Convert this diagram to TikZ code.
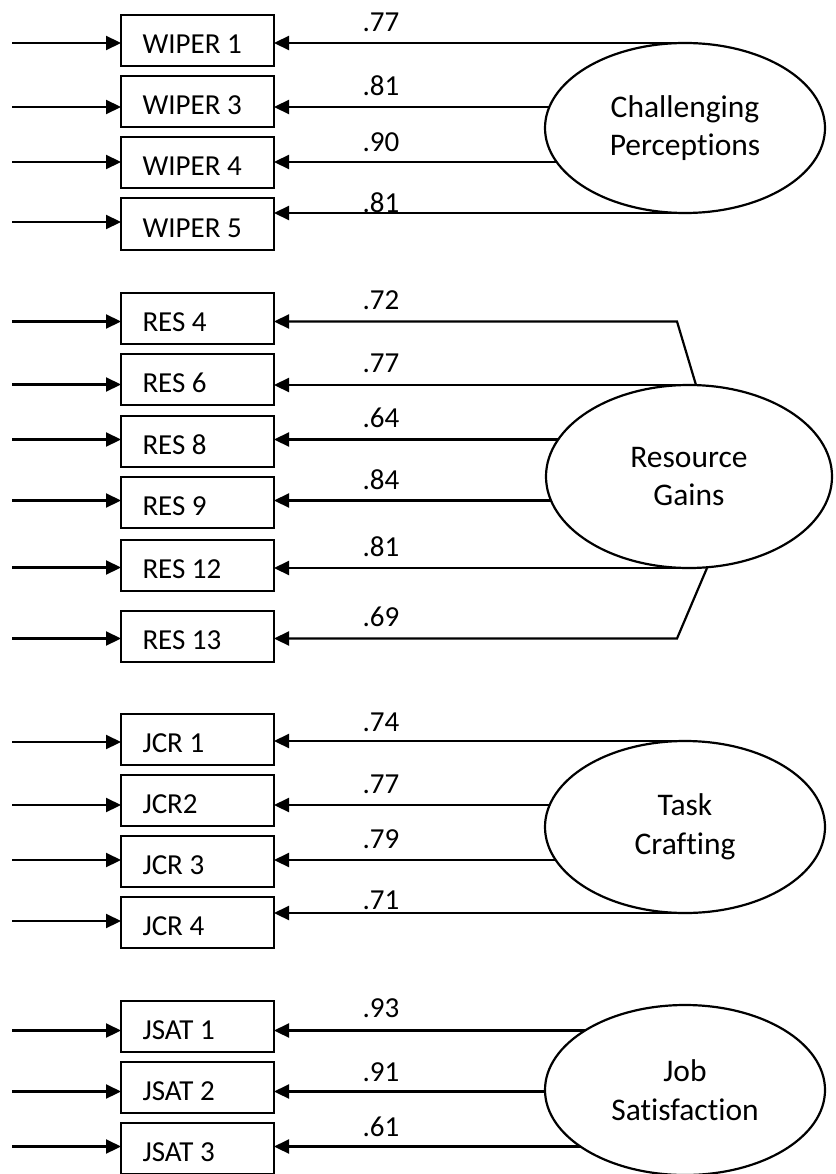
\documentclass[tikz,border=0pt]{standalone}
\usepackage{fontspec}
\setmainfont{Carlito}[Ligatures={NoCommon}]
\usetikzlibrary{arrows.meta,shapes.geometric,positioning,calc}
\pgfdeclarelayer{background}
\pgfsetlayers{background,main}

\begin{document}
\begin{tikzpicture}[
  x=1pt, y=-1pt,
  every node/.style={font=\fontsize{29}{35}\selectfont},
  item/.style={rectangle, draw, line width=2pt, outer sep=0pt,
               minimum width=153pt, minimum height=51pt,
               text width=110pt, inner xsep=21.5pt, align=flush left,
               text height=26pt, text depth=0pt},
  factor/.style={ellipse, draw, line width=2.2pt, fill=white, outer sep=0pt,
                 inner sep=0pt, align=center,
                 font=\fontsize{31.5}{38.5}\selectfont},
  load/.style={font=\fontsize{29}{35}\selectfont},
  arr/.style={-{Triangle[length=15pt,width=14pt]}, line width=2.2pt},
]
\useasboundingbox (0,0) rectangle (835,1174);

% observed items
\node[item] (W1) at (197.5,41) {WIPER 1};
\node[item, below=10pt of W1] (W3) {WIPER 3};
\node[item, below=10pt of W3] (W4) {WIPER 4};
\node[item, below=10pt of W4] (W5) {WIPER 5};

\node[item, below=43pt of W5] (R4) {RES 4};
\node[item, below=10pt of R4] (R6) {RES 6};
\node[item, below=11pt of R6] (R8) {RES 8};
\node[item, below=10pt of R8] (R9) {RES 9};
\node[item, below=12.5pt of R9] (R12) {RES 12};
\node[item, below=20pt of R12] (R13) {RES 13};

\node[item, below=52pt of R13] (J1) {JCR 1};
\node[item, below=9.5pt of J1] (J2) {JCR2};
\node[item, below=10pt of J2] (J3) {JCR 3};
\node[item, below=10pt of J3] (J4) {JCR 4};

\node[item, below=53pt of J4] (S1) {JSAT 1};
\node[item, below=10.5pt of S1] (S2) {JSAT 2};
\node[item, below=10pt of S2] (S3) {JSAT 3};

% latent factors
\node[factor, minimum width=280pt, minimum height=170pt] (CP) at (685,128)
  {Challenging\\Perceptions};
\node[factor, minimum width=286pt, minimum height=183pt] (RG) at (689,476.5)
  {Resource\\Gains};
\node[factor, minimum width=280pt, minimum height=172pt] (TC) at (685,827)
  {Task\\Crafting};
\node[factor, minimum width=280pt, minimum height=170pt] (JS) at (685,1090)
  {Job\\Satisfaction};

% loadings
\node[load] (lW1) at (381,22) {.77};
\node[load] (lW3) at (381,86) {.81};
\node[load] (lW4) at (381,142) {.90};
\node[load] (lW5) at (381,203) {.81};
\node[load] (lR4) at (381,300) {.72};
\node[load] (lR6) at (381,363) {.77};
\node[load] (lR8) at (381,418) {.64};
\node[load] (lR9) at (381,480) {.84};
\node[load] (lR12) at (381,547) {.81};
\node[load] (lR13) at (381,617) {.69};
\node[load] (lJ1) at (381,722) {.74};
\node[load] (lJ2) at (381,784) {.77};
\node[load] (lJ3) at (381,839) {.79};
\node[load] (lJ4) at (381,900) {.71};
\node[load] (lS1) at (381,1008) {.93};
\node[load] (lS2) at (381,1072) {.91};
\node[load] (lS3) at (381,1127) {.61};

\begin{pgfonlayer}{background}
% error terms
\draw[arr] ([shift={(-109pt,-2pt)}]W1.west) -- ([yshift=-2pt]W1.west);
\draw[arr] ([shift={(-109pt,-5pt)}]W3.west) -- ([yshift=-5pt]W3.west);
\draw[arr] ([shift={(-109pt,1pt)}]W4.west) -- ([yshift=1pt]W4.west);
\draw[arr] ([shift={(-109pt,2pt)}]W5.west) -- ([yshift=2pt]W5.west);
\draw[arr] ([shift={(-109pt,-3.5pt)}]R4.west) -- ([yshift=-3.5pt]R4.west);
\draw[arr] ([shift={(-109pt,-5.5pt)}]R6.west) -- ([yshift=-5.5pt]R6.west);
\draw[arr] ([shift={(-109pt,1.5pt)}]R8.west) -- ([yshift=1.5pt]R8.west);
\draw[arr] ([shift={(-109pt,1.5pt)}]R9.west) -- ([yshift=1.5pt]R9.west);
\draw[arr] ([shift={(-109pt,-2pt)}]R12.west) -- ([yshift=-2pt]R12.west);
\draw[arr] ([shift={(-109pt,-2pt)}]R13.west) -- ([yshift=-2pt]R13.west);
\draw[arr] ([shift={(-109pt,-2.5pt)}]J1.west) -- ([yshift=-2.5pt]J1.west);
\draw[arr] ([shift={(-109pt,-5pt)}]J2.west) -- ([yshift=-5pt]J2.west);
\draw[arr] ([shift={(-109pt,1pt)}]J3.west) -- ([yshift=1pt]J3.west);
\draw[arr] ([shift={(-109pt,1pt)}]J4.west) -- ([yshift=1pt]J4.west);
\draw[arr] ([shift={(-109pt,-4.5pt)}]S1.west) -- ([yshift=-4.5pt]S1.west);
\draw[arr] ([shift={(-109pt,-4pt)}]S2.west) -- ([yshift=-4pt]S2.west);
\draw[arr] ([shift={(-109pt,2pt)}]S3.west) -- ([yshift=2pt]S3.west);

% factor loadings
\draw[arr] (CP.north) -- (W1.east |- CP.north);
\draw[arr] ([yshift=-5pt]W3.east -| CP.center) -- ([yshift=-5pt]W3.east);
\draw[arr] ([yshift=1pt]W4.east -| CP.center) -- ([yshift=1pt]W4.east);
\draw[arr] (CP.south) -- (W5.east |- CP.south);

\draw[arr] ([xshift=7pt]RG.north)
  -- ([xshift=-12pt,yshift=-3.5pt]R4.east -| RG.north)
  -- ([yshift=-3.5pt]R4.east);
\draw[arr] (RG.north) -- (R6.east |- RG.north);
\draw[arr] ([yshift=1.5pt]R8.east -| RG.center) -- ([yshift=1.5pt]R8.east);
\draw[arr] ([yshift=1.5pt]R9.east -| RG.center) -- ([yshift=1.5pt]R9.east);
\draw[arr] (RG.south) -- (R12.east |- RG.south);
\draw[arr] ([xshift=18pt]RG.south)
  -- ([xshift=-12pt,yshift=-2pt]R13.east -| RG.south)
  -- ([yshift=-2pt]R13.east);

\draw[arr] (TC.north) -- (J1.east |- TC.north);
\draw[arr] ([yshift=-5pt]J2.east -| TC.center) -- ([yshift=-5pt]J2.east);
\draw[arr] ([yshift=1pt]J3.east -| TC.center) -- ([yshift=1pt]J3.east);
\draw[arr] (TC.south) -- (J4.east |- TC.south);

\draw[arr] ([yshift=-4.5pt]S1.east -| JS.center) -- ([yshift=-4.5pt]S1.east);
\draw[arr] ([yshift=-4pt]S2.east -| JS.center) -- ([yshift=-4pt]S2.east);
\draw[arr] ([yshift=2pt]S3.east -| JS.center) -- ([yshift=2pt]S3.east);
\end{pgfonlayer}

\end{tikzpicture}
\end{document}
